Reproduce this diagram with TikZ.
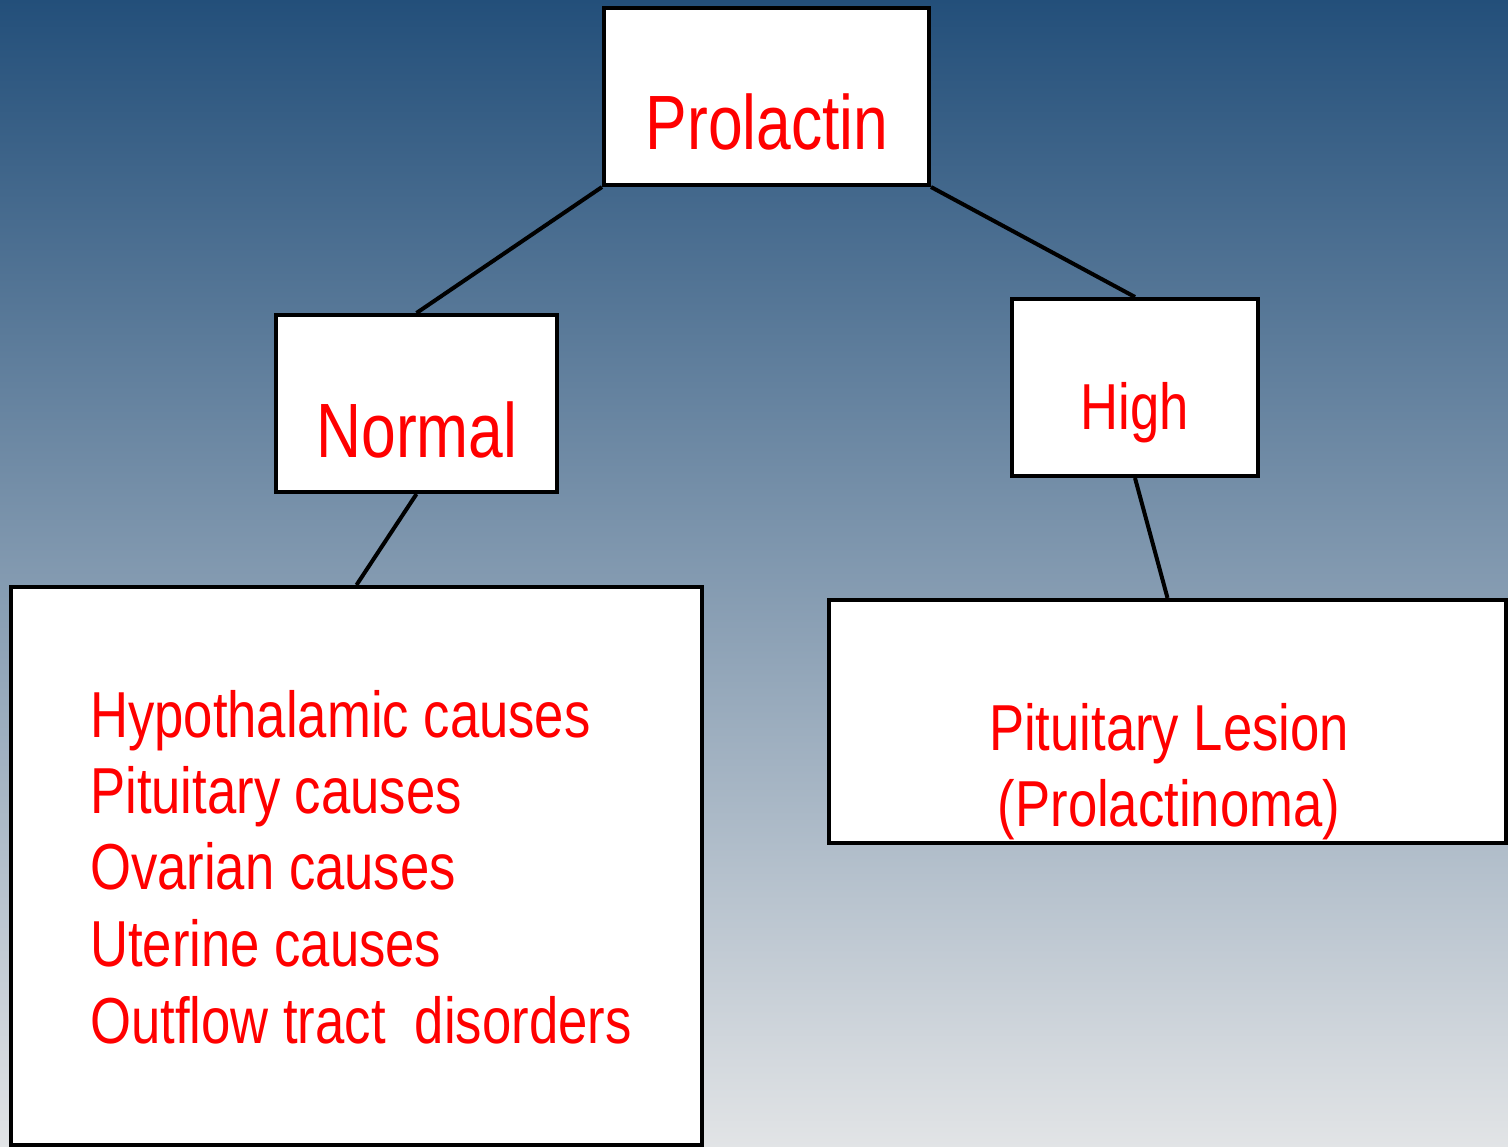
\documentclass[tikz,border=0pt]{standalone}
\usepackage{fontspec}
\setmainfont{Liberation Sans}[FakeStretch=0.81]
\definecolor{bgtop}{HTML}{234F7A}
\definecolor{bgmid}{HTML}{8AA0B5}
\definecolor{bgbot}{HTML}{E2E4E6}
\definecolor{txtred}{HTML}{FF0000}
\begin{document}
\begin{tikzpicture}[x=1pt,y=-1pt,
  box/.style={draw=black,fill=white,line width=4pt,inner sep=0pt},
  link/.style={draw=black,line width=4pt},
  big/.style={text=txtred,inner sep=0pt,font=\fontsize{77}{90}\selectfont},
  mid/.style={text=txtred,inner sep=0pt,font=\fontsize{65}{77}\selectfont}]
  % background
  \shade[top color=bgtop,middle color=bgmid,bottom color=bgbot] (0,0) rectangle (1508,1147);
  \useasboundingbox (0,0) rectangle (1508,1147);
  % boxes
  \node[box,minimum width=325pt,minimum height=177pt] (pro) at (766.5,96.5) {};
  \node[box,minimum width=281pt,minimum height=177pt] (nor) at (416.5,403.5) {};
  \node[box,minimum width=246pt,minimum height=177pt] (hig) at (1135,387.5) {};
  \node[box,minimum width=691pt,minimum height=558pt] (cau) at (356.5,866) {};
  \node[box,minimum width=677pt,minimum height=243pt] (les) at (1167.5,721.5) {};
  % connectors
  \draw[link] (pro.south west) -- (nor.north);
  \draw[link] (pro.south east) -- (hig.north);
  \draw[link] (nor.south) -- (cau.north);
  \draw[link] (hig.south) -- (les.north);
  % labels
  \node[big,anchor=base] (tpro) at (767,150) {Prolactin};
  \node[big,anchor=base] (tnor) at (417,457) {Normal};
  \node[mid,anchor=base] (thig) at (1135,430) {High};
  \node[mid,anchor=base west] (c1) at (90,737) {Hypothalamic causes};
  \node[mid,anchor=base west] (c2) at (90,813) {Pituitary causes};
  \node[mid,anchor=base west] (c3) at (90,889) {Ovarian causes};
  \node[mid,anchor=base west] (c4) at (90,966) {Uterine causes};
  \node[mid,anchor=base west] (c5) at (90,1043) {Outflow tract\ \ disorders};
  \node[mid,anchor=base] (l1) at (1169,750) {Pituitary Lesion};
  \node[mid,anchor=base] (l2) at (1169,826) {(Prolactinoma)};
\end{tikzpicture}
\end{document}
